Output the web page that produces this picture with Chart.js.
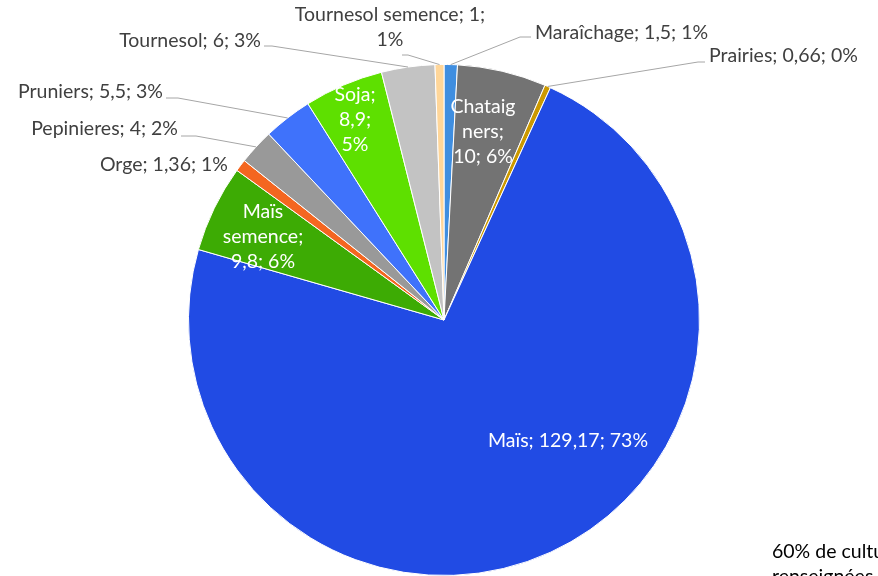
<!DOCTYPE html>
<html>
<head>
<meta charset="utf-8">
<script src="https://cdn.jsdelivr.net/npm/chart.js@4"></script>
<style>
    html, body { margin: 0; padding: 0; background: #fff; }
    #wrap { width: 878px; height: 576px; position: relative; }
</style>
</head>
<body>
<div id="wrap"><canvas id="pieChart" width="878" height="576"></canvas></div>
<script>
// Data (clockwise from 12 o'clock)
const categories = ['Maraîchage', 'Chataigners', 'Prairies', 'Maïs', 'Maïs semence', 'Orge',
    'Pepinieres', 'Pruniers', 'Soja', 'Tournesol', 'Tournesol semence'];
const values = [1.5, 10, 0.66, 129.17, 9.8, 1.36, 4, 5.5, 8.9, 6, 1];
const noteLines = ['60% de cultures', 'renseignées'];

const colors = ['#3f8ee0', '#737373', '#cc9900', '#214be4', '#3dab04', '#f46620',
    '#999999', '#3f72fb', '#5ee000', '#c3c3c3', '#ffd699'];

// label placement (center / left / right anchor, block center y)
const labelLayout = [
    { x: 535, y: 33, align: 'left', maxW: 300, color: '#404040', elbow: [520, 37], lineY: 37 },
    { x: 483, y: 132, align: 'center', maxW: 68, color: '#fff' },
    { x: 709, y: 56, align: 'left', maxW: 300, color: '#404040', elbow: [698, 62], lineY: 62 },
    { x: 568, y: 441, align: 'center', maxW: 300, color: '#fff' },
    { x: 263, y: 237, align: 'center', maxW: 92, color: '#fff' },
    { x: 228, y: 165, align: 'right', maxW: 300, color: '#404040' },
    { x: 178, y: 129, align: 'right', maxW: 300, color: '#404040', elbow: [196, 136], lineY: 136 },
    { x: 163, y: 92, align: 'right', maxW: 300, color: '#404040', elbow: [178, 98], lineY: 98 },
    { x: 355, y: 120, align: 'center', maxW: 50, color: '#fff' },
    { x: 261, y: 41, align: 'right', maxW: 300, color: '#404040', elbow: [272, 46], lineY: 46 },
    { x: 390, y: 27, align: 'center', maxW: 195, color: '#404040', elbow: [408, 55], lineY: 55 }
];

const FONT = '19.5px Lato';
const LINE_H = 25;

function fmt(v) {
    return String(v).replace('.', ',');
}

function wrapText(ctx, text, maxW) {
    const words = text.split(' ');
    const lines = [];
    let cur = '';
    words.forEach(w => {
        // break words that are too long on their own
        while (ctx.measureText(w).width > maxW) {
            let n = w.length;
            while (n > 1 && ctx.measureText(w.slice(0, n)).width > maxW) n--;
            if (cur) { lines.push(cur); cur = ''; }
            lines.push(w.slice(0, n));
            w = w.slice(n);
        }
        const test = cur ? cur + ' ' + w : w;
        if (ctx.measureText(test).width > maxW && cur) {
            lines.push(cur);
            cur = w;
        } else {
            cur = test;
        }
    });
    if (cur) lines.push(cur);
    return lines;
}

const pieLabels = {
    id: 'pieLabels',
    afterDraw(chart) {
        const ctx = chart.ctx;
        const meta = chart.getDatasetMeta(0);
        const total = values.reduce((a, b) => a + b, 0);
        ctx.save();
        ctx.font = FONT;
        ctx.textBaseline = 'middle';

        meta.data.forEach((arc, i) => {
            const p = arc.getProps(['x', 'y', 'startAngle', 'endAngle', 'outerRadius'], true);
            const lay = labelLayout[i];
            const pct = Math.round(values[i] / total * 100);
            const text = `${categories[i]}; ${fmt(values[i])}; ${pct}%`;
            const lines = wrapText(ctx, text, lay.maxW);

            // leader line
            if (lay.elbow) {
                const mid = (p.startAngle + p.endAngle) / 2;
                const ex = p.x + Math.cos(mid) * p.outerRadius;
                const ey = p.y + Math.sin(mid) * p.outerRadius;
                let hx;
                if (lay.align === 'left') hx = lay.x - 4;
                else if (lay.align === 'right') hx = lay.x + 3;
                else hx = lay.elbow[0] - 6;
                ctx.strokeStyle = '#a6a6a6';
                ctx.lineWidth = 1;
                ctx.beginPath();
                ctx.moveTo(ex, ey);
                ctx.lineTo(lay.elbow[0], lay.elbow[1]);
                ctx.lineTo(hx, lay.lineY);
                ctx.stroke();
            }

            ctx.fillStyle = lay.color;
            ctx.textAlign = lay.align;
            const top = lay.y - (lines.length - 1) * LINE_H / 2;
            lines.forEach((ln, k) => ctx.fillText(ln, lay.x, top + k * LINE_H));
        });

        // side note (cut off by the right edge)
        ctx.fillStyle = '#000';
        ctx.textAlign = 'left';
        noteLines.forEach((ln, k) => ctx.fillText(ln, 772, 552 + k * LINE_H));
        ctx.restore();
    }
};

document.addEventListener('DOMContentLoaded', () => {
    const ctx = document.getElementById('pieChart').getContext('2d');
    new Chart(ctx, {
        type: 'pie',
        data: {
            labels: categories,
            datasets: [{
                data: values,
                backgroundColor: colors,
                borderColor: '#fff',
                borderWidth: 1
            }]
        },
        options: {
            responsive: false,
            animation: false,
            layout: {
                padding: { left: 188, right: 178, top: 64, bottom: 0 }
            },
            plugins: {
                legend: { display: false },
                tooltip: { enabled: false }
            }
        },
        plugins: [pieLabels]
    });
});
</script>
</body>
</html>
